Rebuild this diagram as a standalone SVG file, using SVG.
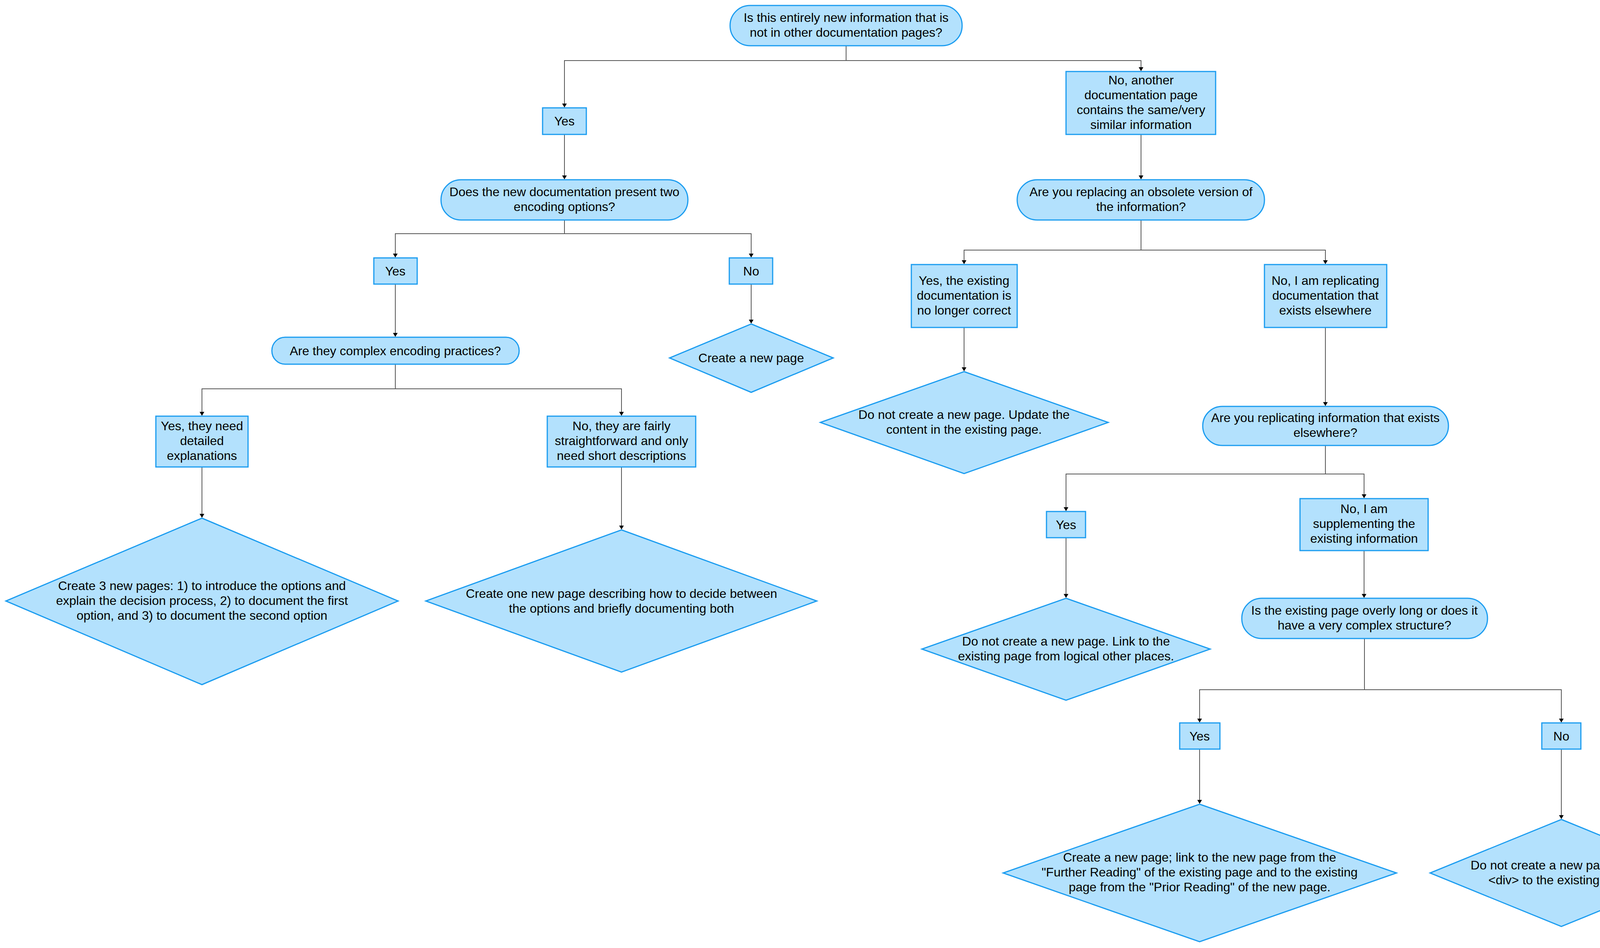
<svg xmlns="http://www.w3.org/2000/svg" width="4349" height="2426" viewBox="0 0 4349 2426">
<style>
.n{fill:#b3e1fd;stroke:#1a9cf0;stroke-width:3}
text{font-family:"Liberation Sans",Arial,sans-serif;font-size:32px;fill:#000;text-anchor:middle}
.c path{fill:none;stroke:#555;stroke-width:2;marker-end:url(#a)}
</style>
<defs><marker id="a" markerWidth="10" markerHeight="12" refX="9" refY="6" orient="auto" markerUnits="userSpaceOnUse" viewBox="0 0 10 12"><path d="M0,0L10,6L0,12z" fill="#000"/></marker></defs>
<rect width="4349" height="2426" fill="#fff"/>
<g class="c">
<path d="M2166,117V155H1445V274"/>
<path d="M2166,155H2921V181"/>
<path d="M1445,344V458"/>
<path d="M2921,344V458"/>
<path d="M1445,563V598H1012V658"/>
<path d="M1445,598H1923V658"/>
<path d="M2921,563V640H2468V675"/>
<path d="M2921,640H3393V675"/>
<path d="M1012,727V861"/>
<path d="M1923,727V827"/>
<path d="M1012,932V995H517V1063"/>
<path d="M1012,995H1591V1063"/>
<path d="M517,1195V1324"/>
<path d="M1591,1195V1354"/>
<path d="M2468,838V949"/>
<path d="M3393,838V1038"/>
<path d="M3393,1140V1213H2729V1307"/>
<path d="M3393,1213H3492V1274"/>
<path d="M2729,1376V1529"/>
<path d="M3492,1409V1529"/>
<path d="M3493,1634V1765H3071V1848"/>
<path d="M3493,1765H3997V1848"/>
<path d="M3071,1917V2056"/>
<path d="M3997,1917V2095"/>
</g>
<g id="n1"><rect class="n" x="1869" y="14" width="594" height="103" rx="51"/><text x="2166" y="56">Is this entirely new information that is</text><text x="2166" y="94">not in other documentation pages?</text></g>
<g id="n2"><rect class="n" x="1389" y="276" width="112" height="68"/><text x="1445" y="321">Yes</text></g>
<g id="n3"><rect class="n" x="2729" y="183" width="383" height="161"/><text x="2921" y="216">No, another</text><text x="2921" y="254">documentation page</text><text x="2921" y="292">contains the same/very</text><text x="2921" y="330">similar information</text></g>
<g id="n4"><rect class="n" x="1129" y="460" width="632" height="103" rx="51"/><text x="1445" y="502">Does the new documentation present two</text><text x="1445" y="540">encoding options?</text></g>
<g id="n5"><rect class="n" x="2604" y="460" width="633" height="103" rx="51"/><text x="2921" y="502">Are you replacing an obsolete version of</text><text x="2921" y="540">the information?</text></g>
<g id="n6"><rect class="n" x="957" y="660" width="111" height="67"/><text x="1012" y="705">Yes</text></g>
<g id="n7"><rect class="n" x="1867" y="660" width="111" height="67"/><text x="1923" y="705">No</text></g>
<g id="n8"><rect class="n" x="2333" y="677" width="271" height="161"/><text x="2468" y="729">Yes, the existing</text><text x="2468" y="767">documentation is</text><text x="2468" y="805">no longer correct</text></g>
<g id="n9"><rect class="n" x="3237" y="677" width="313" height="161"/><text x="3393" y="729">No, I am replicating</text><text x="3393" y="767">documentation that</text><text x="3393" y="805">exists elsewhere</text></g>
<g id="n10"><rect class="n" x="696" y="863" width="633" height="69" rx="34"/><text x="1012" y="909">Are they complex encoding practices?</text></g>
<g id="n11"><polygon class="n" points="1923,829 2133,916 1923,1004 1714,916"/><text x="1923" y="927">Create a new page</text></g>
<g id="n12"><rect class="n" x="399" y="1065" width="236" height="130"/><text x="517" y="1101">Yes, they need</text><text x="517" y="1139">detailed</text><text x="517" y="1177">explanations</text></g>
<g id="n13"><rect class="n" x="1401" y="1065" width="380" height="130"/><text x="1591" y="1101">No, they are fairly</text><text x="1591" y="1139">straightforward and only</text><text x="1591" y="1177">need short descriptions</text></g>
<g id="n14"><polygon class="n" points="517,1326 1019,1538 517,1752 15,1538"/><text x="517" y="1510">Create 3 new pages: 1) to introduce the options and</text><text x="517" y="1548">explain the decision process, 2) to document the first</text><text x="517" y="1586">option, and 3) to document the second option</text></g>
<g id="n15"><polygon class="n" points="1591,1356 2091,1538 1591,1720 1090,1538"/><text x="1591" y="1530">Create one new page describing how to decide between</text><text x="1591" y="1568">the options and briefly documenting both</text></g>
<g id="n16"><polygon class="n" points="2468,951 2837,1081 2468,1212 2100,1081"/><text x="2468" y="1072">Do not create a new page. Update the</text><text x="2468" y="1110">content in the existing page.</text></g>
<g id="n17"><rect class="n" x="3079" y="1040" width="629" height="100" rx="50"/><text x="3393" y="1080">Are you replicating information that exists</text><text x="3393" y="1118">elsewhere?</text></g>
<g id="n18"><rect class="n" x="2679" y="1309" width="100" height="67"/><text x="2729" y="1354">Yes</text></g>
<g id="n19"><rect class="n" x="3328" y="1276" width="328" height="133"/><text x="3492" y="1313">No, I am</text><text x="3492" y="1351">supplementing the</text><text x="3492" y="1389">existing information</text></g>
<g id="n20"><polygon class="n" points="2729,1531 3098,1661 2729,1792 2360,1661"/><text x="2729" y="1652">Do not create a new page. Link to the</text><text x="2729" y="1690">existing page from logical other places.</text></g>
<g id="n21"><rect class="n" x="3179" y="1531" width="629" height="103" rx="51"/><text x="3493" y="1573">Is the existing page overly long or does it</text><text x="3493" y="1611">have a very complex structure?</text></g>
<g id="n22"><rect class="n" x="3020" y="1850" width="103" height="67"/><text x="3071" y="1895">Yes</text></g>
<g id="n23"><rect class="n" x="3947" y="1850" width="100" height="67"/><text x="3997" y="1895">No</text></g>
<g id="n24"><polygon class="n" points="3071,2058 3575,2234 3071,2410 2568,2234"/><text x="3071" y="2205">Create a new page; link to the new page from the</text><text x="3071" y="2243">"Further Reading" of the existing page and to the existing</text><text x="3071" y="2281">page from the "Prior Reading" of the new page.</text></g>
<g id="n25"><polygon class="n" points="3997,2097 4332,2234 3997,2371 3661,2234"/><text x="3997" y="2225">Do not create a new page; add a</text><text x="3997" y="2263">&lt;div&gt; to the existing page.</text></g>
</svg>
